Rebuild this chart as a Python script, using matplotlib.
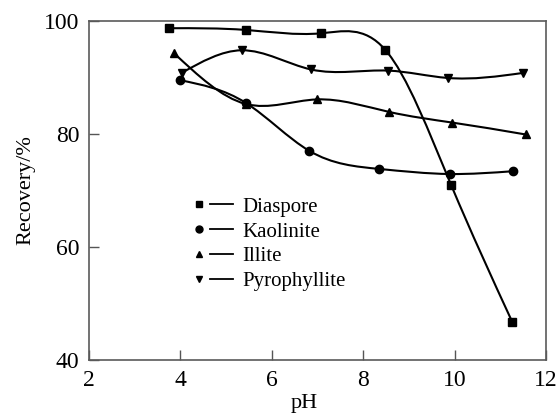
import numpy as np
import matplotlib.pyplot as plt
from matplotlib.path import Path
from matplotlib.patches import PathPatch
from matplotlib.lines import Line2D
from matplotlib.legend_handler import HandlerTuple

plt.rcParams['font.family'] = ['Liberation Serif', 'DejaVu Serif']

# data
ph_diaspore = [3.75, 5.43, 7.07, 8.48, 9.92, 11.26]
rec_diaspore = [98.7, 98.4, 97.8, 94.9, 71.0, 46.7]

ph_kaolinite = [4.0, 5.43, 6.82, 8.35, 9.9, 11.28]
rec_kaolinite = [89.5, 85.5, 77.0, 73.8, 72.9, 73.4]

ph_illite = [3.86, 5.43, 6.98, 8.56, 9.95, 11.55]
rec_illite = [94.3, 85.3, 86.1, 83.9, 82.0, 79.9]

ph_pyro = [4.03, 5.34, 6.86, 8.55, 9.85, 11.5]
rec_pyro = [90.8, 94.8, 91.4, 91.2, 89.9, 90.8]

names = ['Diaspore', 'Kaolinite', 'Illite', 'Pyrophyllite']
markers = ['s', 'o', '^', 'v']


def spline_slopes(x, y):
    # slopes of a natural cubic spline at the knots
    x = np.asarray(x, float)
    y = np.asarray(y, float)
    n = len(x)
    h = np.diff(x)
    A = np.zeros((n, n))
    r = np.zeros(n)
    A[0, 0] = 1
    A[-1, -1] = 1
    for i in range(1, n - 1):
        A[i, i - 1] = h[i - 1]
        A[i, i] = 2 * (h[i - 1] + h[i])
        A[i, i + 1] = h[i]
        r[i] = 6 * ((y[i + 1] - y[i]) / h[i] - (y[i] - y[i - 1]) / h[i - 1])
    M = np.linalg.solve(A, r)
    m = np.zeros(n)
    for i in range(n - 1):
        m[i] = (y[i + 1] - y[i]) / h[i] - h[i] * (2 * M[i] + M[i + 1]) / 6
    m[-1] = (y[-1] - y[-2]) / h[-1] + h[-1] * (M[-2] + 2 * M[-1]) / 6
    return m


def spline_path(x, y):
    m = spline_slopes(x, y)
    verts = [(x[0], y[0])]
    codes = [Path.MOVETO]
    for i in range(len(x) - 1):
        h = x[i + 1] - x[i]
        verts += [(x[i] + h / 3, y[i] + m[i] * h / 3),
                  (x[i + 1] - h / 3, y[i + 1] - m[i + 1] * h / 3),
                  (x[i + 1], y[i + 1])]
        codes += [Path.CURVE4] * 3
    return Path(verts, codes)


fig = plt.figure(figsize=(5.59, 4.18), dpi=100)
ax = fig.add_axes([0.159, 0.139, 0.818, 0.811])

series = [(ph_diaspore, rec_diaspore), (ph_kaolinite, rec_kaolinite),
          (ph_illite, rec_illite), (ph_pyro, rec_pyro)]

handles = []
for (x, y), mk, name in zip(series, markers, names):
    ax.add_patch(PathPatch(spline_path(x, y), fill=False, lw=1.5, ec='black'))
    ax.plot(x, y, ls='none', marker=mk, ms=6, color='black')
    h1 = Line2D([], [], ls='none', marker=mk, ms=5, color='black')
    h2 = Line2D([], [], ls='-', lw=1.3, color='black')
    handles.append((h1, h2))

ax.set_xlim(2, 12)
ax.set_ylim(40, 100)
ax.set_xticks([2, 4, 6, 8, 10, 12])
ax.set_yticks([40, 60, 80, 100])
ax.tick_params(direction='in', length=7, width=1, labelsize=17, colors='#555555',
               labelcolor='black', pad=7)
for sp in ax.spines.values():
    sp.set_color('#5a5a5a')
    sp.set_linewidth(1.2)

ax.set_xlabel('pH', fontsize=16, labelpad=4)
ax.xaxis.set_label_coords(0.47, -0.1)
ax.xaxis.label.set_va('top')
ax.set_ylabel('Recovery/%', fontsize=16, labelpad=6)

ax.legend(handles, names, handler_map={tuple: HandlerTuple(ndivide=None, pad=0)},
          loc='upper left', bbox_to_anchor=(0.215, 0.48), frameon=False,
          fontsize=15, handlelength=2.2, handletextpad=0.43, labelspacing=0.25,
          borderpad=0, borderaxespad=0)

fig.savefig('out.png', dpi=100)
